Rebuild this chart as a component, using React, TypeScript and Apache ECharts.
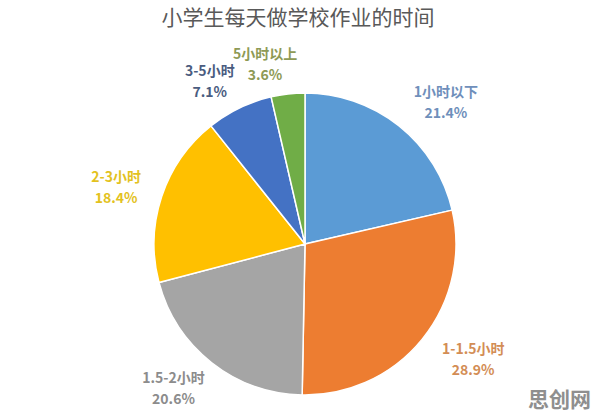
import React, { useEffect, useRef } from "react";
import * as echarts from "echarts";

const TITLE = "小学生每天做学校作业的时间";
const categories = ["1小时以下", "1-1.5小时", "1.5-2小时", "2-3小时", "3-5小时", "5小时以上"];
const values = [21.4, 28.9, 20.6, 18.4, 7.1, 3.6];
const sliceColors = ["#5B9BD5", "#ED7D31", "#A5A5A5", "#FFC000", "#4472C4", "#70AD47"];
const labelColors = ["#6f8fbb", "#d38d55", "#8c8c8c", "#e3c21e", "#4a5c80", "#8e9a55"];
const WATERMARK = "思创网";

export default function App() {
  const ref = useRef<HTMLDivElement>(null);
  useEffect(() => {
    if (!ref.current) return;
    const chart = echarts.init(ref.current, null, { renderer: "svg" });
    const font = '"Noto Sans CJK SC", "Noto Sans", sans-serif';
    chart.setOption({
      animation: false,
      backgroundColor: "#ffffff",
      title: {
        text: TITLE,
        left: "center",
        top: 0,
        padding: [5, 5, 5, 5],
        textStyle: { fontSize: 21, fontWeight: "normal", color: "#595959", fontFamily: font },
      },
      graphic: [
        {
          type: "text",
          right: 5,
          bottom: 4,
          style: {
            text: WATERMARK,
            fill: "#8f8f8f",
            font: `bold 21px ${font}`,
          },
        },
      ],
      series: [
        {
          type: "pie",
          center: [305, 244],
          radius: 151,
          startAngle: 90,
          clockwise: true,
          avoidLabelOverlap: false,
          itemStyle: { borderColor: "#ffffff", borderWidth: 1.5 },
          label: {
            show: true,
            position: "outside",
            formatter: "{b}\n{c}%",
            fontSize: 14,
            fontWeight: "bold",
            lineHeight: 21,
            fontFamily: font,
          },
          labelLine: { show: false, length: 31, length2: 0 },
          labelLayout: (params: any) => {
            const r = params.labelRect;
            let cx;
            if (params.align === "right") {
              cx = r.x + r.width - (0.45 * r.width) / 2;
            } else {
              cx = r.x + (0.7 * r.width) / 2;
            }
            return { x: cx, y: r.y + r.height / 2, align: "center", verticalAlign: "middle" };
          },
          data: categories.map((name, i) => ({
            name,
            value: values[i],
            itemStyle: { color: sliceColors[i] },
            label: { color: labelColors[i] },
          })),
        },
      ],
    });
    return () => chart.dispose();
  }, []);
  return (
    <div
      ref={ref}
      style={{ position: "fixed", left: 0, top: 0, width: 596, height: 412, background: "#fff" }}
    />
  );
}
